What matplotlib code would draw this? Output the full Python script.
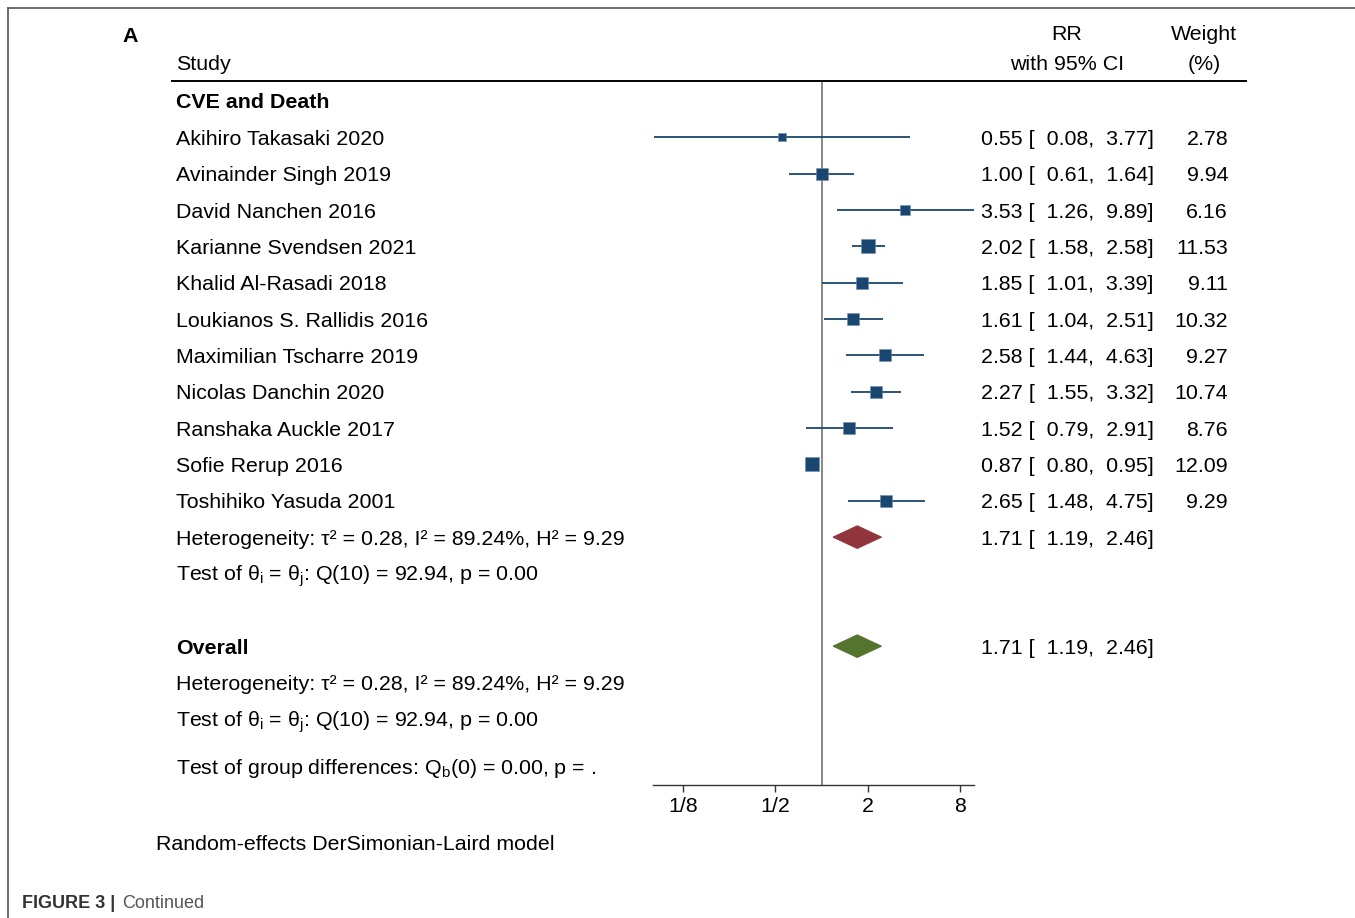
import matplotlib
matplotlib.use('Agg')
import matplotlib.pyplot as plt
from matplotlib.transforms import blended_transform_factory

plt.rcParams['font.family'] = ['Liberation Sans', 'DejaVu Sans']
plt.rcParams['mathtext.fontset'] = 'custom'
plt.rcParams['mathtext.rm'] = 'Liberation Sans'
plt.rcParams['mathtext.it'] = 'Liberation Sans'
plt.rcParams['mathtext.bf'] = 'Liberation Sans:bold'

# data
studies = ['Akihiro Takasaki 2020', 'Avinainder Singh 2019', 'David Nanchen 2016',
           'Karianne Svendsen 2021', 'Khalid Al-Rasadi 2018', 'Loukianos S. Rallidis 2016',
           'Maximilian Tscharre 2019', 'Nicolas Danchin 2020', 'Ranshaka Auckle 2017',
           'Sofie Rerup 2016', 'Toshihiko Yasuda 2001']
rr = [0.55, 1.00, 3.53, 2.02, 1.85, 1.61, 2.58, 2.27, 1.52, 0.87, 2.65]
lo = [0.08, 0.61, 1.26, 1.58, 1.01, 1.04, 1.44, 1.55, 0.79, 0.80, 1.48]
hi = [3.77, 1.64, 9.89, 2.58, 3.39, 2.51, 4.63, 3.32, 2.91, 0.95, 4.75]
weight = [2.78, 9.94, 6.16, 11.53, 9.11, 10.32, 9.27, 10.74, 8.76, 12.09, 9.29]
group_est = [1.71, 1.19, 2.46]
overall_est = [1.71, 1.19, 2.46]
tick_vals = [0.125, 0.5, 2, 8]
tick_labels = ['1/8', '1/2', '2', '8']

het_text = 'Heterogeneity: τ² = 0.28, I² = 89.24%, H² = 9.29'
test_text = r'Test of $\theta_\mathrm{i}$ = $\theta_\mathrm{j}$: Q(10) = 92.94, p = 0.00'
groupdiff_text = r'Test of group differences: Q$_\mathrm{b}$(0) = 0.00, p = .'

navy = '#1a476f'
maroon = '#90353b'
green = '#55752f'
FS = 15.4

W, H = 1355, 918
fig = plt.figure(figsize=(W / 100, H / 100), dpi=100)
ax = fig.add_axes([653.5 / W, 1 - 785 / H, (974 - 653.5) / W, (785 - 81) / H])
ax.set_xscale('log', base=2)
ax.set_xlim(min(lo), max(hi))
ax.set_ylim(18.82, -0.55)
for s in ['top', 'left', 'right']:
    ax.spines[s].set_visible(False)
ax.spines['bottom'].set_color('#333333')
ax.spines['bottom'].set_linewidth(1.0)
ax.set_yticks([])
ax.set_xticks(tick_vals)
ax.set_xticklabels(tick_labels)
ax.minorticks_off()
ax.tick_params(axis='x', length=5, width=1.0, color='#333333', labelsize=FS, pad=3.5)

ax.axvline(1, color='#7f7f7f', lw=1.3, zorder=1)

rows = list(range(1, len(studies) + 1))
for y, r, l, h, w in zip(rows, rr, lo, hi, weight):
    ax.plot([l, h], [y, y], color=navy, lw=1.3, solid_capstyle='butt', zorder=2)
    side_px = 3.1 * w ** 0.5 + 2.5
    ax.plot([r], [y], marker='s', color=navy, markersize=side_px * 0.72,
            markeredgewidth=0.4, markeredgecolor='#6f8fb0', zorder=3)


def diamond(est, y, color):
    e, l, h = est
    ax.fill([l, e, h, e], [y, y - 0.31, y, y + 0.31], color=color, zorder=3, lw=0.8)


diamond(group_est, 12, maroon)
diamond(overall_est, 15, green)

tr = blended_transform_factory(fig.transFigure, ax.transData)
xs = 176 / W
xrr = 981 / W
xw = 1228 / W
BASE = 0.206  # baseline offset below the row centre, in rows


def row_text(x, y, s, **kw):
    ax.text(x, y + BASE, s, transform=tr, fontsize=FS, va='baseline', clip_on=False, **kw)


def fig_text(x, y_px, s, size=FS, **kw):
    fig.text(x, 1 - y_px / H, s, fontsize=size, va='baseline', **kw)


row_text(xs, 0, 'CVE and Death', fontweight='bold')
for y, name, r, l, h, w in zip(rows, studies, rr, lo, hi, weight):
    row_text(xs, y, name)
    row_text(xrr, y, f'{r:.2f} [  {l:.2f},  {h:.2f}]')
    row_text(xw, y, f'{w:.2f}', ha='right')
row_text(xs, 12, het_text)
row_text(xrr, 12, '{:.2f} [  {:.2f},  {:.2f}]'.format(*group_est))
row_text(xs, 13, test_text)
row_text(xs, 15, 'Overall', fontweight='bold')
row_text(xrr, 15, '{:.2f} [  {:.2f},  {:.2f}]'.format(*overall_est))
row_text(xs, 16, het_text)
row_text(xs, 17, test_text)
row_text(xs, 18.3, groupdiff_text)

# header
ax.plot([172 / W, 1246 / W], [-0.55, -0.55], transform=tr, color='black', lw=1.4, clip_on=False)
fig_text(122 / W, 42.5, 'A', fontweight='bold')
fig_text(xs, 69.5, 'Study')
fig_text(1067 / W, 40.5, 'RR', ha='center')
fig_text(1067 / W, 69.5, 'with 95% CI', ha='center')
fig_text(1204 / W, 40.5, 'Weight', ha='center')
fig_text(1204 / W, 69.5, '(%)', ha='center')

# footer
fig_text(156 / W, 850.5, 'Random-effects DerSimonian-Laird model')
fig_text(22 / W, 907.5, 'FIGURE 3 |', size=13, fontweight='bold', color='#333333')
fig_text(122 / W, 907.5, 'Continued', size=13, color='#555555')

# page frame
fig.add_artist(plt.Line2D([8 / W, 1], [1 - 8 / H, 1 - 8 / H], transform=fig.transFigure,
                          color='#555555', lw=1.2))
fig.add_artist(plt.Line2D([8 / W, 8 / W], [0, 1 - 8 / H], transform=fig.transFigure,
                          color='#555555', lw=1.2))

fig.savefig('out.png', dpi=100)
